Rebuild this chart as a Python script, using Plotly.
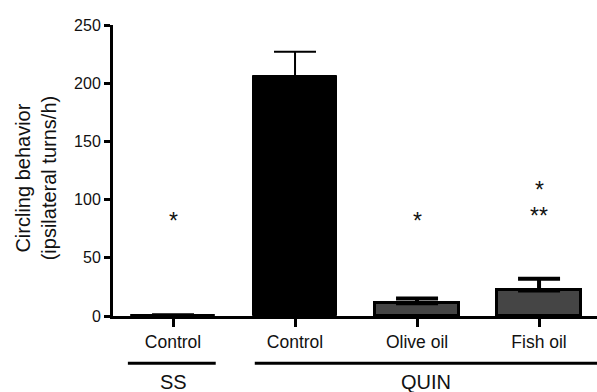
import plotly.graph_objects as go

categories = ["Control", "Control", "Olive oil", "Fish oil"]
means = [1, 206, 11, 22]
sem = [0.5, 21, 4, 10]
fills = ["#000000", "#000000", "#454545", "#454545"]
err_thickness = [2, 2, 4, 4]

groups = ["SS", "QUIN"]
sig_labels = ["*", "*", "*", "**"]
sig_x = [0, 2, 3, 3]
sig_y = [82, 82, 108, 86]

x_pos = list(range(len(categories)))
FONT = "Liberation Sans, Arial, sans-serif"

fig = go.Figure()
for i in x_pos:
    fig.add_trace(go.Bar(
        x=[x_pos[i]], y=[means[i]], width=0.69,
        marker=dict(color=fills[i], line=dict(color="black", width=3 if i >= 2 else 1)),
        error_y=dict(type="data", array=[sem[i]], arrayminus=[0], symmetric=False,
                     color="black", thickness=err_thickness[i], width=21, visible=True),
        showlegend=False, hoverinfo="skip",
    ))

for lab, sx, sy in zip(sig_labels, sig_x, sig_y):
    fig.add_annotation(x=sx, y=sy, text=lab,
                       showarrow=False, font=dict(size=23, color="#111", family=FONT))

# group lines and labels
group_spans = [(-0.37, 0.35), (0.67, 3.475)]
group_centers = [0, 2.07]
for g, (a, b), c in zip(groups, group_spans, group_centers):
    fig.add_shape(type="line", xref="x", yref="paper", x0=a, x1=b, y0=-0.162, y1=-0.162,
                  line=dict(color="black", width=3))
    fig.add_annotation(xref="x", yref="paper", x=c, y=-0.226, text=g, showarrow=False,
                       font=dict(size=20, color="#111", family=FONT),
                       yanchor="middle")

fig.add_annotation(xref="paper", yref="paper", x=-0.16, y=0.475, xanchor="center",
                   yanchor="middle",
                   text="Circling behavior<br>(ipsilateral turns/h)", textangle=-90,
                   showarrow=False, font=dict(size=20, color="#111", family=FONT))

fig.update_layout(
    width=597, height=392,
    margin=dict(l=113, r=0, t=25, b=76),
    plot_bgcolor="white", paper_bgcolor="white",
    font=dict(family=FONT, color="#111"),
    bargap=0,
)
fig.update_xaxes(
    range=[-0.492, 3.475], tickmode="array", tickvals=x_pos, ticktext=categories,
    showline=True, linecolor="black", linewidth=3, ticks="outside", ticklen=8,
    tickwidth=3, tickcolor="black", tickfont=dict(size=17.5), showgrid=False, zeroline=False,
)
fig.update_yaxes(
    range=[0, 250], tickvals=[0, 50, 100, 150, 200, 250],
    showline=True, linecolor="black", linewidth=3, ticks="outside", ticklen=6,
    tickwidth=3, tickcolor="black", tickfont=dict(size=16), showgrid=False, zeroline=False,
)

fig.write_html("out.html", post_script="document.body.style.margin='0';",
               config={"displayModeBar": False})
